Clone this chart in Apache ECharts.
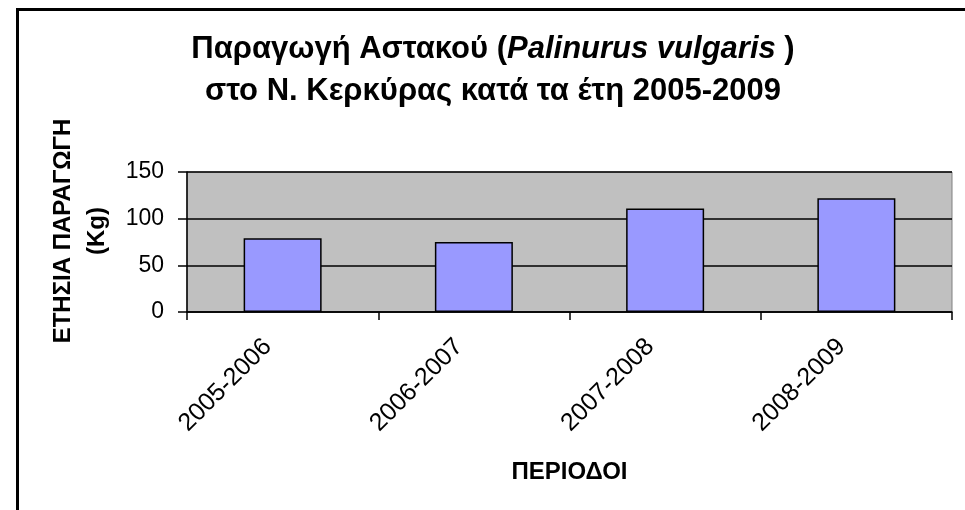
<!DOCTYPE html>
<html>
<head>
<meta charset="utf-8">
<script src="https://cdn.jsdelivr.net/npm/echarts@6/dist/echarts.min.js"></script>
<style>
  html, body { margin: 0; padding: 0; background: #fff; }
  #chart { width: 965px; height: 510px; }
</style>
</head>
<body>
<div id="chart"></div>
<script>
const periods = ['2005-2006', '2006-2007', '2007-2008', '2008-2009'];
const production = [79, 75, 111, 122];
const yTicks = { min: 0, max: 150, interval: 50 };

const font = "'Liberation Sans', Arial, sans-serif";

const chart = echarts.init(document.getElementById('chart'));

const option = {
    backgroundColor: '#fff',
    animation: false,
    title: {
        text: '{b|Παραγωγή Αστακού (}{i|Palinurus vulgaris}{b| )}\n{b|στο Ν. Κερκύρας κατά τα έτη 2005-2009}',
        left: 488,
        top: 23,
        textAlign: 'center',
        textStyle: {
            fontFamily: font,
            rich: {
                b: {fontFamily: font, fontSize: 31, fontWeight: 'bold', color: '#000', lineHeight: 42},
                i: {fontFamily: font, fontSize: 31, fontWeight: 'bold', fontStyle: 'italic', color: '#000', lineHeight: 42}
            }
        }
    },
    graphic: [{
        type: 'rect',
        shape: {x: 17.5, y: 9.5, width: 1200, height: 800},
        style: {fill: 'none', stroke: '#000', lineWidth: 3},
        silent: true
    }],
    grid: {
        left: 187, top: 172, right: 13, bottom: 198,
        show: true,
        backgroundColor: '#C0C0C0',
        borderColor: '#808080',
        borderWidth: 1
    },
    xAxis: {
        type: 'category',
        data: periods,
        name: 'ΠΕΡΙΟΔΟΙ',
        nameLocation: 'middle',
        nameGap: 148,
        nameTextStyle: {fontFamily: font, fontSize: 24, fontWeight: 'bold', color: '#000'},
        axisLine: {lineStyle: {color: '#000', width: 1.5}},
        axisTick: {show: true, length: 8, lineStyle: {color: '#000', width: 1.5}},
        axisLabel: {rotate: 45, margin: 16, padding: [0, 21, 0, 0], fontFamily: font, fontSize: 25, color: '#000'}
    },
    yAxis: {
        type: 'value',
        min: yTicks.min,
        max: yTicks.max,
        interval: yTicks.interval,
        name: 'ΕΤΗΣΙΑ ΠΑΡΑΓΩΓΗ\n(Kg)',
        nameLocation: 'middle',
        nameGap: 72,
        nameTextStyle: {fontFamily: font, fontSize: 24, fontWeight: 'bold', color: '#000', lineHeight: 34, padding: [0, 0, 0, 22]},
        axisLine: {show: true, lineStyle: {color: '#000', width: 1.5}},
        axisTick: {show: true, length: 9, lineStyle: {color: '#000', width: 1.5}},
        axisLabel: {margin: 23, fontFamily: font, fontSize: 23, color: '#000'},
        splitLine: {lineStyle: {color: '#000', width: 1.5}}
    },
    series: [{
        type: 'bar',
        data: production,
        barWidth: 78,
        itemStyle: {color: '#9999FF', borderColor: '#000', borderWidth: 1.5}
    }]
};

chart.setOption(option);
</script>
</body>
</html>
